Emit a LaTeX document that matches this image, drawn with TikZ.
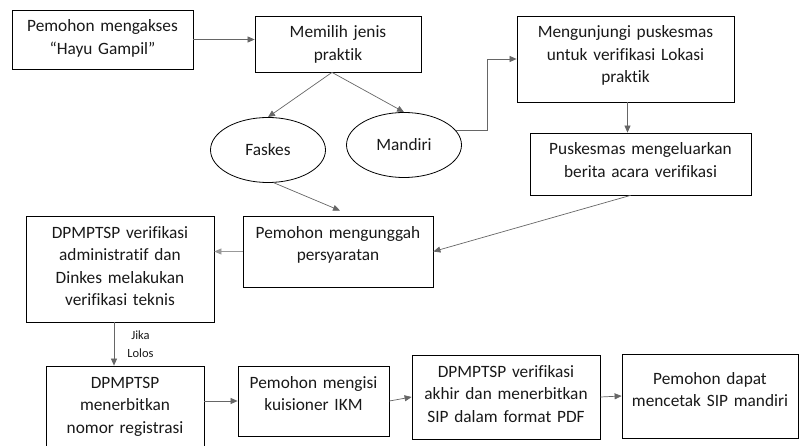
\documentclass[tikz,border=0pt]{standalone}
\usepackage{fontspec}
\setmainfont{Carlito}[Ligatures=NoCommon, WordSpace=0.85]
\usepackage{tikz}
\usetikzlibrary{arrows.meta,positioning,shapes.geometric,calc}
\tikzset{
  % kotak proses (teks rata atas)
  box/.style={
    draw=black,
    line width=0.8pt,
    rectangle,
    inner sep=0pt,
    align=center,
    text height=22pt,
    font=\fontsize{17.3}{22.5}\selectfont,
    text=black!90
  },
  % pilihan praktik
  oval/.style={
    draw=black,
    line width=0.8pt,
    ellipse,
    minimum width=115pt,
    minimum height=65pt,
    font=\fontsize{17.3}{22.5}\selectfont,
    text=black!90
  },
  % panah
  arr/.style={-{Triangle[length=7pt,width=6pt]}, line width=0.7pt, black!60},
  arrlab/.style={font=\fontsize{12.5}{18}\selectfont, text=black!90, align=center, inner sep=0pt},
}
\begin{document}
\begin{tikzpicture}[x=1pt, y=-1pt]
        \useasboundingbox (0,0) rectangle (799,446);
        \clip (0,0) rectangle (799,446);

        % Baris atas
        \node[box, text width=181pt, text depth=37pt] (akses) at (102.5,39.5) {Pemohon mengakses\\“Hayu Gampil”};
        \node[box, text width=166pt, text depth=34pt] (jenis) at (338,44) {Memilih jenis\\praktik};
        \node[oval] (faskes) at (268,150) {Faskes};
        \node[oval] (mandiri) at (404,145) {Mandiri};
        \node[box, text width=217pt, text depth=64pt] (kunjungi) at (625.5,59) {Mengunjungi puskesmas\\untuk verifikasi Lokasi\\praktik};
        \node[box, text width=221pt, text depth=40pt] (berita) at (640.5,164) {Puskesmas mengeluarkan\\berita acara verifikasi};

        % Baris tengah
        \node[box, text width=190pt, text depth=49pt] (unggah) at (338,251.5) {Pemohon mengunggah\\persyaratan};
        \node[box, text width=188pt, text depth=84pt] (verif) at (120,269) {DPMPTSP verifikasi\\administratif dan\\Dinkes melakukan\\verifikasi teknis};

        % Baris bawah
        \node[box, text width=158pt, text depth=74pt] (regis) at (125,414) {DPMPTSP\\menerbitkan\\nomor registrasi};
        \node[box, text width=151pt, text depth=48pt] (ikm) at (313.5,401) {Pemohon mengisi\\kuisioner IKM};
        \node[box, text width=188pt, text depth=62pt] (akhir) at (506,397) {DPMPTSP verifikasi\\akhir dan menerbitkan\\SIP dalam format PDF};
        \node[box, text width=176pt, text height=30pt, text depth=54pt] (cetak) at (710,396) {Pemohon dapat\\mencetak SIP mandiri};

        % Panah
        \draw[arr] (akses.east) -- (akses.east -| jenis.west);
        \draw[arr] ([xshift=-6pt]jenis.south) -- (faskes.north);
        \draw[arr] ([xshift=-6pt]jenis.south) -- (mandiri.north);
        \draw[arr] (mandiri.16) -| ([xshift=-29pt]kunjungi.west) -- (kunjungi.west);
        \draw[arr] ([xshift=2pt]kunjungi.south) -- ([xshift=2pt]kunjungi.south |- berita.north);
        \draw[arr] ([xshift=-10pt]berita.south) -- (unggah.east);
        \draw[arr] (faskes.-80) -- ([xshift=2pt,yshift=5pt]unggah.north);
        \draw[arr, black!40] (unggah.west) -- (unggah.west -| verif.east);
        \draw[arr] ([xshift=-6pt]verif.south) -- ([xshift=-6pt]verif.south |- regis.north)
            node[arrlab, midway, right=13pt] {Jika\\Lolos};
        \draw[arr] (regis.east |- ikm.west) -- (ikm.west);
        \draw[arr] (ikm.east) -- (akhir.west);
        \draw[arr] (akhir.east) -- (cetak.west);
    \end{tikzpicture}
\end{document}
